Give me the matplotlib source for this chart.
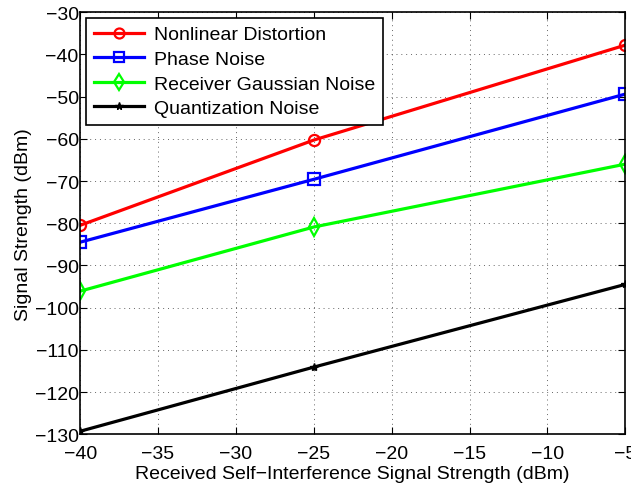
import matplotlib
matplotlib.use('Agg')
import matplotlib.pyplot as plt

plt.rcParams['font.family'] = ['Liberation Sans', 'DejaVu Sans']
plt.rcParams['axes.unicode_minus'] = True

x = [-40, -25, -5]
nonlinear = [-80.5, -60.3, -37.8]
phase = [-84.5, -69.6, -49.4]
gaussian = [-96.1, -80.9, -66.0]
quant = [-129.3, -114.1, -94.5]

fig = plt.figure(figsize=(6.31, 4.89), dpi=100)
ax = fig.add_axes([0.127, 0.110, 0.864, 0.863])

ax.plot(x, nonlinear, color='red', lw=2.3, marker='o', ms=8, mfc='none', mew=1.6, label='Nonlinear Distortion')
ax.plot(x, phase, color='blue', lw=2.3, marker='s', ms=8, mfc='none', mew=1.6, label='Phase Noise')
ax.plot(x, gaussian, color='#00ff00', lw=2.3, marker='d', ms=9, mfc='none', mew=1.6, label='Receiver Gaussian Noise')
ax.plot(x, quant, color='black', lw=2.3, marker='*', ms=6, label='Quantization Noise')

ax.set_xlim(-40, -5)
ax.set_ylim(-130, -30)
ax.set_xticks(range(-40, -4, 5))
ax.set_yticks(range(-130, -29, 10))
ax.grid(True, linestyle=(0, (1, 4)), color='black', lw=0.7, alpha=0.6)
ax.tick_params(direction='in', labelsize=14, length=5, top=True, right=True)
ax.tick_params(axis='x', pad=8)
ax.tick_params(axis='y', pad=1)
for s in ax.spines.values():
    s.set_linewidth(1.2)

ax.set_xlabel('Received Self\u2212Interference Signal Strength (dBm)', fontsize=14, labelpad=2)
ax.set_ylabel('Signal Strength (dBm)', fontsize=14, labelpad=2)

leg = ax.legend(loc='upper left', fontsize=14, fancybox=False, edgecolor='black',
                framealpha=1, handlelength=2.6, handletextpad=0.5, borderaxespad=0.3,
                labelspacing=0.36, markerscale=0.9)
leg.get_frame().set_linewidth(1.2)

fig.savefig('out.png', dpi=100)
